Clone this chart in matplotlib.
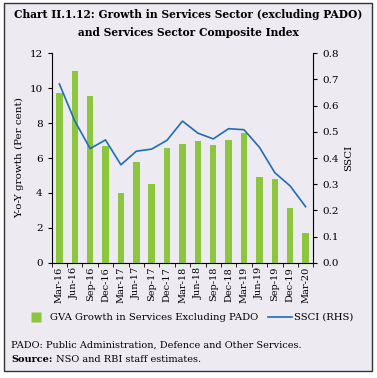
import matplotlib
matplotlib.use("Agg")
import matplotlib.pyplot as plt
from matplotlib.patches import Rectangle
from matplotlib.lines import Line2D
import numpy as np

categories = ["Mar-16", "Jun-16", "Sep-16", "Dec-16", "Mar-17", "Jun-17", "Sep-17",
              "Dec-17", "Mar-18", "Jun-18", "Sep-18", "Dec-18", "Mar-19", "Jun-19",
              "Sep-19", "Dec-19", "Mar-20"]
gva_growth = [9.74, 10.98, 9.55, 6.67, 4.01, 5.75, 4.49, 6.55, 6.78, 6.97, 6.74,
              7.05, 7.45, 4.93, 4.81, 3.12, 1.70]
ssci = [0.683, 0.542, 0.436, 0.469, 0.374, 0.426, 0.434, 0.468, 0.541, 0.495,
        0.473, 0.512, 0.508, 0.441, 0.344, 0.293, 0.214]

bg = "#EDEAF2"
green = "#8CC63F"
blue = "#1F6DB5"
plt.rcParams['font.family'] = ['DejaVu Serif']

fig = plt.figure(figsize=(3.77, 3.78), dpi=100)
fig.patch.set_facecolor("white")
fig.add_artist(Rectangle((0.0106, 0.0185), 0.9764, 0.9735, transform=fig.transFigure,
                         facecolor=bg, edgecolor="#333333", linewidth=1.0, zorder=0))

ax = fig.add_axes([0.137, 0.305, 0.694, 0.554])
ax.set_facecolor("none")
x = np.arange(len(categories))
ax.bar(x, gva_growth, width=0.42, color=green, zorder=2)
ax.set_xlim(-0.5, len(categories) - 0.5)
ax.set_ylim(0, 12)
ax.set_yticks(range(0, 13, 2))
ax.set_xticks(x)
ax.set_xticklabels(categories, rotation=90, fontsize=7)
ax.tick_params(axis='x', length=0, pad=3)
ax.set_xticks(np.arange(-0.5, len(categories), 1), minor=True)
ax.tick_params(axis='x', which='minor', length=3, direction='out')
ax.tick_params(axis='y', labelsize=7.5, length=3, direction='out')
ax.set_ylabel("Y-o-Y growth (Per cent)", fontsize=7.5, labelpad=4)
for s in ["top", "right"]:
    ax.spines[s].set_visible(False)

ax2 = ax.twinx()
ax2.plot(x, ssci, color=blue, linewidth=1.2, zorder=3)
ax2.set_ylim(0, 0.8)
ax2.set_yticks(np.arange(0, 0.81, 0.1))
ax2.set_yticklabels([f"{v:.1f}" for v in np.arange(0, 0.81, 0.1)])
ax2.tick_params(axis='y', labelsize=7.5, length=3, direction='out')
ax2.set_ylabel("SSCI", fontsize=7.5, labelpad=4)
for s in ["top", "left", "bottom"]:
    ax2.spines[s].set_visible(False)

handles = [Line2D([0], [0], linestyle="none", marker="s", markersize=7.5,
                  markerfacecolor=green, markeredgecolor="none"),
           Line2D([0], [0], color=blue, linewidth=1.2)]
fig.legend(handles, ["GVA Growth in Services Excluding PADO", "SSCI (RHS)"],
           loc="center", bbox_to_anchor=(0.5, 0.16), ncol=2, frameon=False,
           fontsize=7.2, handlelength=2.4, columnspacing=1.0,
           handletextpad=0.2)

fig.text(0.5, 0.962, "Chart II.1.12: Growth in Services Sector (excluding PADO)",
         ha="center", va="center", fontsize=7.7, fontweight="bold")
fig.text(0.5, 0.913, "and Services Sector Composite Index",
         ha="center", va="center", fontsize=7.7, fontweight="bold")
fig.text(0.03, 0.087, "PADO: Public Administration, Defence and Other Services.",
         ha="left", va="center", fontsize=7.0)
src = fig.text(0.03, 0.05, "Source:", ha="left", va="center", fontsize=7.0,
               fontweight="bold")
ax.annotate(" NSO and RBI staff estimates.", xy=(1, 0.5), xycoords=src,
            ha="left", va="center", fontsize=7.0, annotation_clip=False)

fig.savefig("out.png", dpi=100, facecolor=fig.get_facecolor())
